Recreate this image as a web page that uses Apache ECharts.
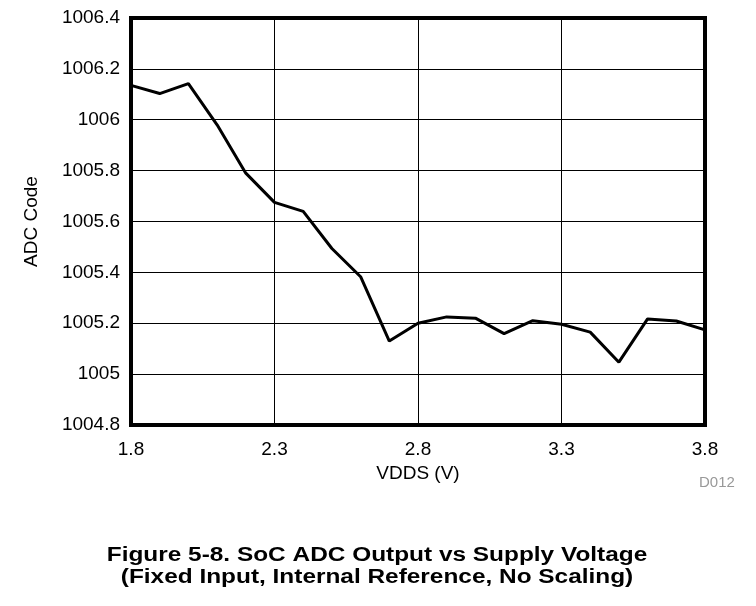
<!DOCTYPE html>
<html>
<head>
<meta charset="utf-8">
<script src="https://cdn.jsdelivr.net/npm/echarts@6/dist/echarts.min.js"></script>
<style>html,body{margin:0;padding:0;background:#fff}#c{width:756px;height:606px}</style>
</head>
<body>
<div id="c"></div>
<script>
var vdds = [1.8, 1.9, 2.0, 2.1, 2.2, 2.3, 2.4, 2.5, 2.6, 2.7, 2.8, 2.9, 3.0, 3.1, 3.2, 3.3, 3.4, 3.5, 3.6, 3.7, 3.8];
var adcCode = [1006.135, 1006.103, 1006.142, 1005.98, 1005.79, 1005.675, 1005.64, 1005.494, 1005.383, 1005.13, 1005.2, 1005.225, 1005.22, 1005.159, 1005.21, 1005.196, 1005.165, 1005.047, 1005.217, 1005.209, 1005.174];
var xTickLabels = ['1.8', '2.3', '2.8', '3.3', '3.8'];
var yTickLabels = ['1004.8', '1005', '1005.2', '1005.4', '1005.6', '1005.8', '1006', '1006.2', '1006.4'];
var xName = 'VDDS (V)';
var yName = 'ADC Code';
var figTitle1 = 'Figure 5-8. SoC ADC Output vs Supply Voltage';
var figTitle2 = '(Fixed Input, Internal Reference, No Scaling)';
var figId = 'D012';

var font = '"Liberation Sans", Arial, sans-serif';
var chart = echarts.init(document.getElementById('c'), null, {renderer: 'canvas'});
chart.setOption({
  animation: false,
  backgroundColor: '#fff',
  grid: {left: 131, right: 51, top: 18, bottom: 181, show: true, borderColor: '#000', borderWidth: 4, backgroundColor: 'transparent', z: 5},
  xAxis: {
    type: 'value', min: 1.8, max: 3.8, interval: 0.5,
    axisLine: {show: false}, axisTick: {show: false},
    splitLine: {show: true, lineStyle: {color: '#000', width: 1}},
    axisLabel: {color: '#000', fontSize: 19, fontFamily: font, margin: 15,
      formatter: function (v) { var i = Math.round((v - 1.8) / 0.5); return xTickLabels[i] || ''; }},
    name: xName, nameLocation: 'middle', nameGap: 37,
    nameTextStyle: {color: '#000', fontSize: 19, fontFamily: font}
  },
  yAxis: {
    type: 'value', min: 1004.8, max: 1006.4, interval: 0.2,
    axisLine: {show: false}, axisTick: {show: false},
    splitLine: {show: true, lineStyle: {color: '#000', width: 1}},
    axisLabel: {color: '#000', fontSize: 19, fontFamily: font, margin: 11,
      formatter: function (v) { var i = Math.round((v - 1004.8) / 0.2); return yTickLabels[i] || ''; }},
    name: yName, nameLocation: 'middle', nameGap: 90, nameRotate: 90,
    nameTextStyle: {color: '#000', fontSize: 19, fontFamily: font}
  },
  series: [{
    type: 'line', data: vdds.map(function (x, i) { return [x, adcCode[i]]; }),
    symbol: 'none', lineStyle: {color: '#000', width: 3}, z: 3
  }],
  graphic: [
    {type: 'text', left: 699, top: 475, style: {text: figId, fill: '#999', font: '15px ' + font}},
    {type: 'text', x: 377, y: 545, scaleX: 1.22, style: {text: figTitle1, fill: '#000', font: 'bold 20px ' + font, textAlign: 'center'}},
    {type: 'text', x: 377, y: 567, scaleX: 1.22, style: {text: figTitle2, fill: '#000', font: 'bold 20px ' + font, textAlign: 'center'}}
  ]
});
</script>
</body>
</html>
